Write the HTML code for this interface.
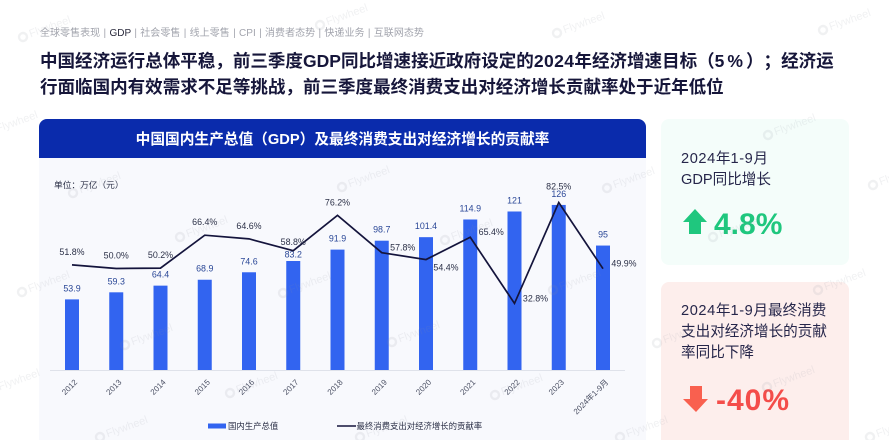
<!DOCTYPE html>
<html lang="zh">
<head>
<meta charset="utf-8">
<title>中国国内生产总值及最终消费贡献率</title>
<style>
html,body{margin:0;padding:0;background:#fff}
#page{position:relative;width:889px;height:440px;overflow:hidden;background:#fff;font-family:"Liberation Sans","Noto Sans CJK SC",sans-serif;color:#17173a;text-spacing-trim:space-all}
.abs{position:absolute;white-space:nowrap}
#crumbs{left:40px;top:27px;font-size:10px;line-height:14px;color:#a2a4ad;word-spacing:.5px;letter-spacing:.03px}
#crumbs b{font-weight:400;color:#2a2a3c}
#headline{left:40px;top:48px;font-size:17.55px;line-height:26px;font-weight:700;color:#16163a}
#panel{left:39px;top:119px;width:607px;height:330px;background:#f8f9fd;border-radius:8px 8px 0 0}
#panel-head{left:39px;top:119px;width:607px;height:39px;background:#0a2bac;border-radius:8px 8px 0 0;color:#fff;font-size:14.7px;font-weight:700;line-height:42px;text-align:center}
.card{border-radius:8px;left:661px;width:188px}
#card-up{top:119px;height:146px;background:#f4fdfa}
#card-down{top:282px;height:165px;background:#fdeeec}
.card-text{left:681px;font-size:14.6px;line-height:21px;color:#26264a}
.card-text span{letter-spacing:.6px}
.big{font-size:30px;font-weight:700;line-height:34px}
svg{position:absolute;left:0;top:0}
</style>
</head>
<body>
<div id="page">
  <div id="crumbs" class="abs">全球零售表现 | <b>GDP</b> | 社会零售 | 线上零售 | CPI | 消费者态势 | 快递业务 | 互联网态势</div>
  <div id="headline" class="abs">中国经济运行总体平稳，前三季度GDP同比增速接近政府设定的<span style="letter-spacing:.4px">2024</span>年经济增速目标（<span style="letter-spacing:3px">5%</span>）；经济运<br>行面临国内有效需求不足等挑战，前三季度最终消费支出对经济增长贡献率处于近年低位</div>

  <div id="panel" class="abs"></div>
  <div id="panel-head" class="abs">中国国内生产总值（GDP）及最终消费支出对经济增长的贡献率</div>

  <div id="card-up" class="abs card"></div>
  <div class="abs card-text" style="top:149px"><span>2024</span>年<span>1-9</span>月<br>GDP同比增长</div>
  <div class="abs big" style="left:714px;top:208px;color:#1fc77e">4.8%</div>

  <div id="card-down" class="abs card"></div>
  <div class="abs card-text" style="top:301px"><span>2024</span>年<span>1-9</span>月最终消费<br>支出对经济增长的贡献<br>率同比下降</div>
  <div class="abs big" style="left:716px;top:384px;color:#f44d4a;letter-spacing:1px">-40%</div>

  <svg width="889" height="440" style="pointer-events:none">
    <polygon fill="#1fc77e" points="695,209 707,222 701,222 701,234 689,234 689,222 683,222"/>
    <polygon fill="#f9604f" points="696,412 708,399 702,399 702,386 690,386 690,399 683,399"/>
  </svg>

  <svg id="chart" width="889" height="440"></svg>
  <svg id="marks" width="889" height="440" style="pointer-events:none"></svg>
</div>

<script>
const categories = ['2012','2013','2014','2015','2016','2017','2018','2019','2020','2021','2022','2023','2024年1-9月'];
const gdpValues = [53.9,59.3,64.4,68.9,74.6,83.2,91.9,98.7,101.4,114.9,121,126,95];
const shareValues = [51.8,50.0,50.2,66.4,64.6,58.8,76.2,57.8,54.4,65.4,32.8,82.5,49.9];
const shareLabelSides = ['top','top','top','top','top','near','top','right','low','right','right','far','right'];
const gdpLabelSides = ['top','top','top','top','top','near','top','top','top','top','top','top','top'];

const NS = 'http://www.w3.org/2000/svg';
const FONT = '"Liberation Sans","Noto Sans CJK SC",sans-serif';
const chart = document.getElementById('chart');
const baseY = 370;
function xScale(i){ return 72 + i * 44.25; }
function yBar(v){ return baseY - v * 1.31; }
function yLine(v){ return baseY - v * 2.03; }

function make(tag, attrs, parent){
  const el = document.createElementNS(NS, tag);
  for (const k in attrs) el.setAttribute(k, attrs[k]);
  parent.appendChild(el);
  return el;
}
function label(str, x, y, size, fill, anchor, parent){
  const t = make('text', {x:x, y:y, 'font-size':size, fill:fill, 'text-anchor':anchor||'middle', 'dominant-baseline':'central', 'font-family':FONT}, parent);
  t.textContent = str;
  return t;
}

const unit = label('单位：万亿（元）', 54, 185, 8.7, '#2b3047', 'start', chart);



const axis = make('line', {x1:50, x2:625, y1:baseY+0.5, y2:baseY+0.5, stroke:'#dfe2ea', 'stroke-width':1}, chart);



gdpValues.forEach(function(v, i){
  const bar = make('rect', {x:xScale(i)-7, y:yBar(v), width:14, height:baseY-yBar(v), fill:'#3264f0'}, chart);
  
  
  const gap = gdpLabelSides[i] === 'near' ? 6.5 : 11;
  const val = label(String(v), xScale(i), yBar(v)-gap, 8.9, '#2a4797', 'middle', chart);
  
  
});

categories.forEach(function(c, i){
  const tx = xScale(i) + 4;
  const tick = label(c, tx, 381, 8, '#4a4f63', 'end', chart);
  tick.setAttribute('transform', 'rotate(-45 ' + tx + ' 381)');
  
  
});

const pts = shareValues.map(function(v, i){ return xScale(i) + ',' + yLine(v); }).join(' ');
const line = make('polyline', {points:pts, fill:'none', stroke:'#14143c', 'stroke-width':1.7, 'stroke-linejoin':'miter'}, chart);



shareValues.forEach(function(v, i){
  const side = shareLabelSides[i];
  let lx = xScale(i), ly = yLine(v) - 13;
  if (side === 'near') ly = yLine(v) - 8.5;
  if (side === 'far') ly = yLine(v) - 16;
  if (side === 'right') { lx = xScale(i) + 21; ly = yLine(v) - 5; }
  if (side === 'low') { lx = xScale(i) + 20; ly = yLine(v) + 8; }
  const t = label(v.toFixed(1) + '%', lx, ly, 8.9, '#2b3047', 'middle', chart);
  
  
});

const lgBar = make('rect', {x:208, y:423.5, width:18, height:5, fill:'#3264f0'}, chart);


const lgBarText = label('国内生产总值', 228, 426, 8.4, '#2b3047', 'start', chart);


const lgLine = make('line', {x1:337, x2:356, y1:426, y2:426, stroke:'#14143c', 'stroke-width':1.5}, chart);


const lgLineText = label('最终消费支出对经济增长的贡献率', 356.5, 426, 8.4, '#2b3047', 'start', chart);



const wmAnchors = [[23,37],[320,25],[557,33],[823,30],[-10,132],[768,135],[73,193],[342,187],[607,188],[873,185],[180,237],[445,240],[713,237],[283,293],[22,292],[553,290],[818,290],[125,345],[392,342],[657,343],[230,393],[495,395],[767,387],[-8,390],[100,437],[360,437],[620,437],[870,437]];
const marks = document.getElementById('marks');
wmAnchors.forEach(function(p){
  const g = make('g', {transform:'translate(' + p[0] + ' ' + p[1] + ') rotate(-20)', opacity:0.12}, marks);
  
  
  make('circle', {cx:0, cy:0, r:4, fill:'none', stroke:'#8a8f9c', 'stroke-width':2.4}, g);
  label('Flywheel', 7, 0, 11, '#8a8f9c', 'start', g);
});
</script>
</body>
</html>
